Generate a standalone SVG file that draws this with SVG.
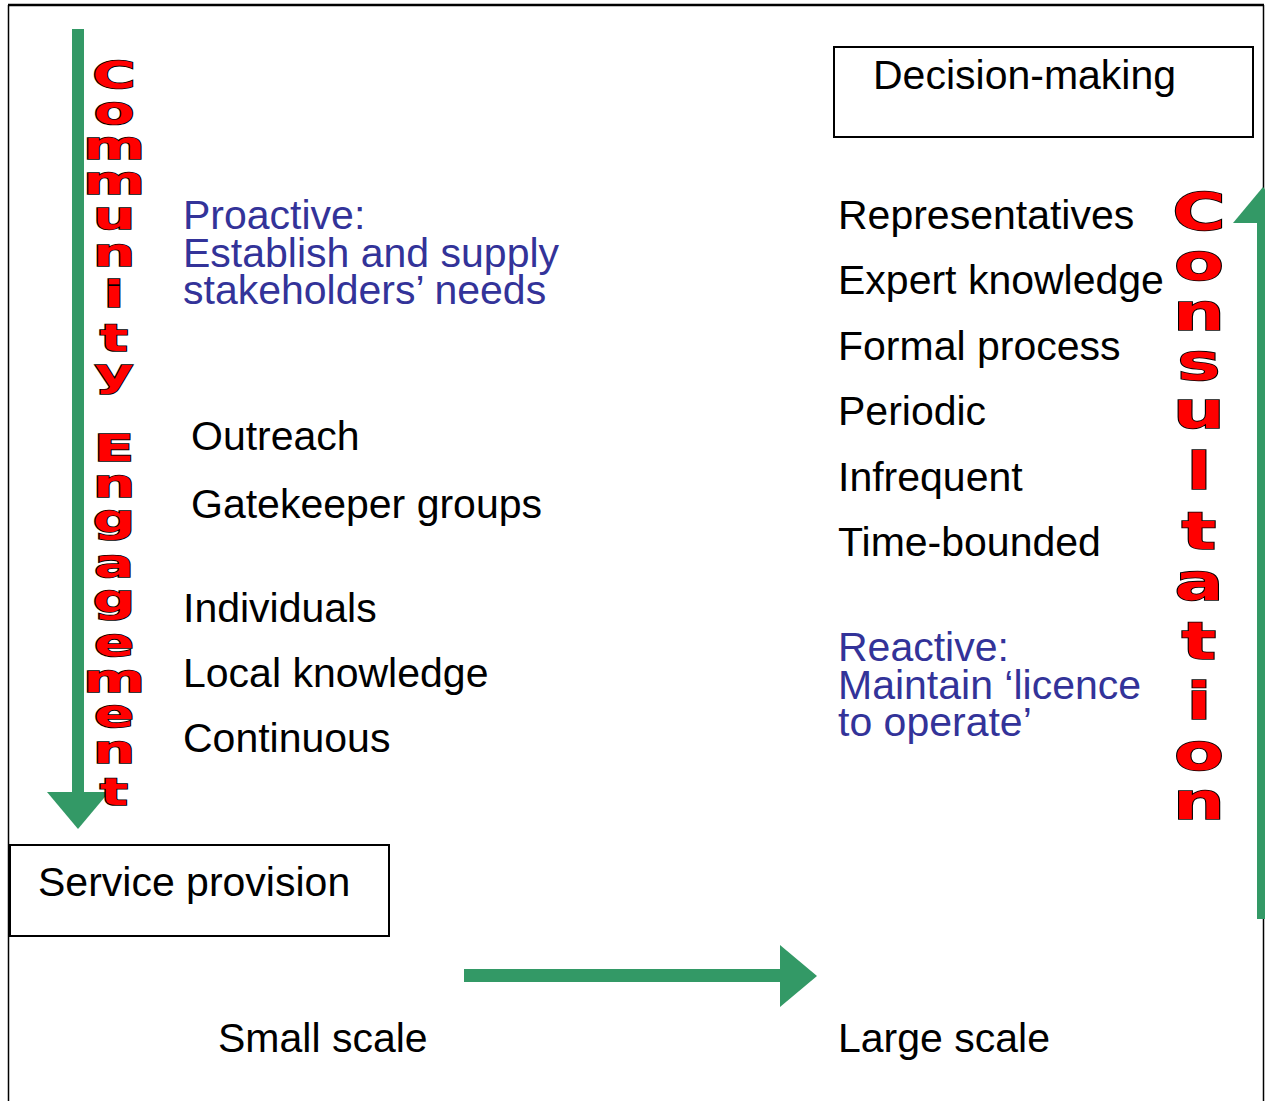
<svg xmlns="http://www.w3.org/2000/svg" width="1265" height="1101" viewBox="0 0 1265 1101">
  <style>
    .t { font-family: "Liberation Sans", Arial, sans-serif; font-size: 41px; fill: #000; }
    .blue { fill: #333399; }
    .box { fill: #fff; stroke: #000; stroke-width: 2; }
    .arrow { fill: #339966; }
    .big { font-family: "DejaVu Sans", sans-serif; font-weight: bold; fill: #ff0000; stroke: #000; stroke-width: 1.6; text-anchor: middle; paint-order: stroke; }
    .frame { stroke: #000; fill: none; }
  </style>

  <rect width="1265" height="1101" fill="#fff"/>

  <!-- outer frame -->
  <g id="frame">
    <line class="frame" x1="8" y1="5" x2="1264" y2="5" stroke-width="2.5"/>
    <line class="frame" x1="8.5" y1="5" x2="8.5" y2="1101" stroke-width="1.5"/>
    <line class="frame" x1="1263.5" y1="5" x2="1263.5" y2="1101" stroke-width="1.5"/>
  </g>

  <!-- arrows -->
  <g id="connectors">
    <rect class="arrow" x="72" y="29" width="12" height="764"/>
    <polygon class="arrow" points="47,792 109,792 78,829"/>
    <rect class="arrow" x="1257" y="222" width="12" height="697"/>
    <polygon class="arrow" points="1233,223 1263,187 1293,223"/>
    <rect class="arrow" x="464" y="969" width="317" height="13"/>
    <polygon class="arrow" points="780,945 817,976 780,1007"/>
  </g>

  <!-- vertical title: Community Engagement -->
  <g id="community-engagement" transform="translate(114,0) scale(1.6,1)" font-size="37">
    <text class="big" x="0" y="88">C</text>
    <text class="big" x="0" y="124">o</text>
    <text class="big" x="0" y="159">m</text>
    <text class="big" x="0" y="194">m</text>
    <text class="big" x="0" y="229">u</text>
    <text class="big" x="0" y="266">n</text>
    <text class="big" x="0" y="307">i</text>
    <text class="big" x="0" y="351">t</text>
    <text class="big" x="0" y="386">y</text>
    <text class="big" x="0" y="461">E</text>
    <text class="big" x="0" y="497">n</text>
    <text class="big" x="0" y="532">g</text>
    <text class="big" x="0" y="577">a</text>
    <text class="big" x="0" y="612">g</text>
    <text class="big" x="0" y="656">e</text>
    <text class="big" x="0" y="692">m</text>
    <text class="big" x="0" y="727">e</text>
    <text class="big" x="0" y="763">n</text>
    <text class="big" x="0" y="805">t</text>
  </g>

  <!-- vertical title: Consultation -->
  <g id="consultation" transform="translate(1199,0) scale(1.4,1)" font-size="52">
    <text class="big" x="0" y="230">C</text>
    <text class="big" x="0" y="280">o</text>
    <text class="big" x="0" y="330">n</text>
    <text class="big" x="0" y="380">s</text>
    <text class="big" x="0" y="428">u</text>
    <text class="big" x="0" y="489">l</text>
    <text class="big" x="0" y="549">t</text>
    <text class="big" x="0" y="600">a</text>
    <text class="big" x="0" y="659">t</text>
    <text class="big" x="0" y="719">i</text>
    <text class="big" x="0" y="770">o</text>
    <text class="big" x="0" y="819">n</text>
  </g>

  <!-- top-right box -->
  <g id="decision-making">
    <rect class="box" x="834" y="47" width="419" height="90"/>
    <text class="t" x="873" y="89">Decision-making</text>
  </g>

  <!-- bottom-left box -->
  <g id="service-provision">
    <rect class="box" x="10" y="845" width="379" height="91"/>
    <text class="t" x="38" y="896">Service provision</text>
  </g>

  <!-- community engagement notes -->
  <g id="proactive">
    <text class="t blue" x="183" y="229">Proactive:</text>
    <text class="t blue" x="183" y="267">Establish and supply</text>
    <text class="t blue" x="183" y="304">stakeholders’ needs</text>
  </g>
  <g id="community-traits">
    <text class="t" x="191" y="450">Outreach</text>
    <text class="t" x="191" y="518">Gatekeeper groups</text>
    <text class="t" x="183" y="622">Individuals</text>
    <text class="t" x="183" y="687">Local knowledge</text>
    <text class="t" x="183" y="752">Continuous</text>
  </g>

  <!-- consultation notes -->
  <g id="consultation-traits">
    <text class="t" x="838" y="229">Representatives</text>
    <text class="t" x="838" y="294">Expert knowledge</text>
    <text class="t" x="838" y="360">Formal process</text>
    <text class="t" x="838" y="425">Periodic</text>
    <text class="t" x="838" y="491">Infrequent</text>
    <text class="t" x="838" y="556">Time-bounded</text>
  </g>
  <g id="reactive">
    <text class="t blue" x="838" y="661">Reactive:</text>
    <text class="t blue" x="838" y="699">Maintain ‘licence</text>
    <text class="t blue" x="838" y="736">to operate’</text>
  </g>

  <!-- scale axis -->
  <g id="small-scale">
    <text class="t" x="218" y="1052">Small scale</text>
  </g>
  <g id="large-scale">
    <text class="t" x="838" y="1052">Large scale</text>
  </g>
</svg>
